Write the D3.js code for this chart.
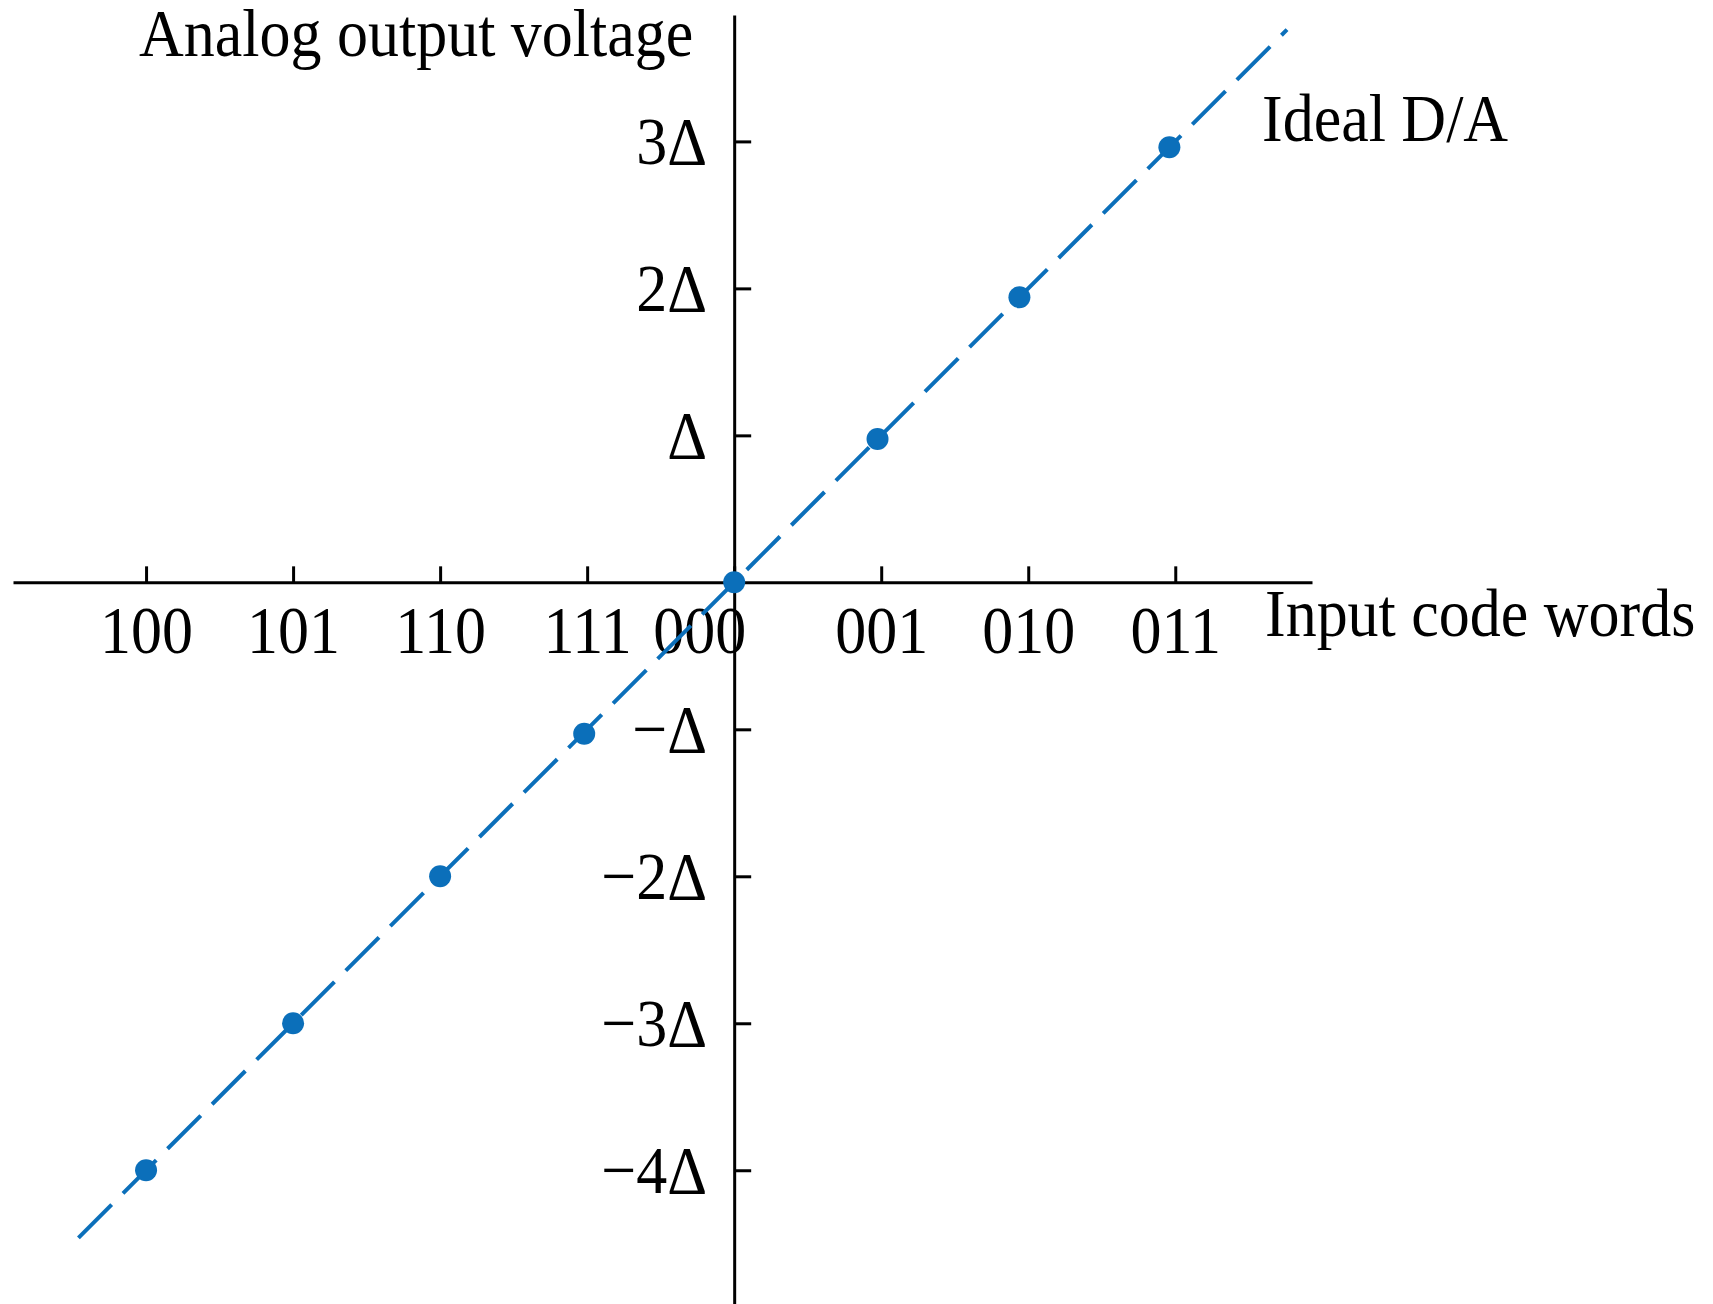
<!DOCTYPE html>
<meta charset="utf-8">
<script src="https://d3js.org/d3.v7.min.js"></script>
<style>
  body { margin: 0; background: #fff; }
  text { font-family: "Liberation Serif", "Times New Roman", serif; fill: #000;
         transform-box: fill-box; transform-origin: center; transform: scaleY(1.1); }
  .axis path, .axis line { stroke: #000; stroke-width: 3; }
</style>
<div id="chart"></div>
<script>
// input code words along x, in order of their position (-4 .. 3)
var codeWords = ["100", "101", "110", "111", "000", "001", "010", "011"];
var codePos = [-4, -3, -2, -1, 0, 1, 2, 3];
// dot positions (in units of delta)
var dotX = [-4, -3, -2, -1.02, 0, 0.975, 1.94, 2.96];
var dotY = [-4, -3, -2, -1.03, 0, 0.975, 1.94, 2.96];
var yTicks = [-4, -3, -2, -1, 1, 2, 3];
// ends of the dashed ideal line
var lineEnds = [-4.46, 3.76];

var W = 1713, H = 1304;
var blue = "#0b6fba";

var svg = d3.select("#chart").append("svg")
  .attr("width", W).attr("height", H);

var x = d3.scaleLinear().domain([-4.905, 3.93]).range([13, 1312]);
var y = d3.scaleLinear().domain([-4.91, 3.86]).range([1304, 15]);

// x axis
var xAxis = svg.append("g")
  .attr("class", "axis")
  .attr("transform", "translate(0," + y(0) + ")")
  .call(d3.axisBottom(x)
    .tickValues(codePos)
    .tickFormat(function(d, i) { return codeWords[i]; })
    .tickSizeInner(-16).tickSizeOuter(0).tickPadding(25));
xAxis.selectAll("text")
  .style("font-size", "62px")
  .attr("dx", function(d) { return d === 0 ? -35 : 0; });

// y axis
var yAxis = svg.append("g")
  .attr("class", "axis")
  .attr("transform", "translate(" + x(0) + ",0)")
  .call(d3.axisLeft(y)
    .tickValues(yTicks)
    .tickFormat(function(d) {
      var s = d < 0 ? "\u2212" : "";
      var n = Math.abs(d) === 1 ? "" : Math.abs(d);
      return s + n + "\u0394";
    })
    .tickSizeInner(-17).tickSizeOuter(0).tickPadding(27));
yAxis.selectAll("text").style("font-size", "62px");

// ideal D/A line
svg.append("line")
  .attr("x1", x(lineEnds[0])).attr("y1", y(lineEnds[0]))
  .attr("x2", x(lineEnds[1])).attr("y2", y(lineEnds[1]))
  .attr("stroke", blue)
  .attr("stroke-width", 4)
  .attr("stroke-dasharray", "47,16");

// dots
svg.selectAll(".dot")
  .data(dotX)
  .enter().append("circle")
  .attr("class", "dot")
  .attr("cx", function(d) { return x(d); })
  .attr("cy", function(d, i) { return y(dotY[i]); })
  .attr("r", 11)
  .attr("fill", blue);

// labels
svg.append("text")
  .attr("x", 139).attr("y", 54)
  .style("font-size", "62px")
  .text("Analog output voltage");

svg.append("text")
  .attr("x", 1262).attr("y", 139)
  .style("font-size", "62px")
  .text("Ideal D/A");

svg.append("text")
  .attr("x", 1265).attr("y", 634)
  .style("font-size", "62px")
  .text("Input code words");
</script>
